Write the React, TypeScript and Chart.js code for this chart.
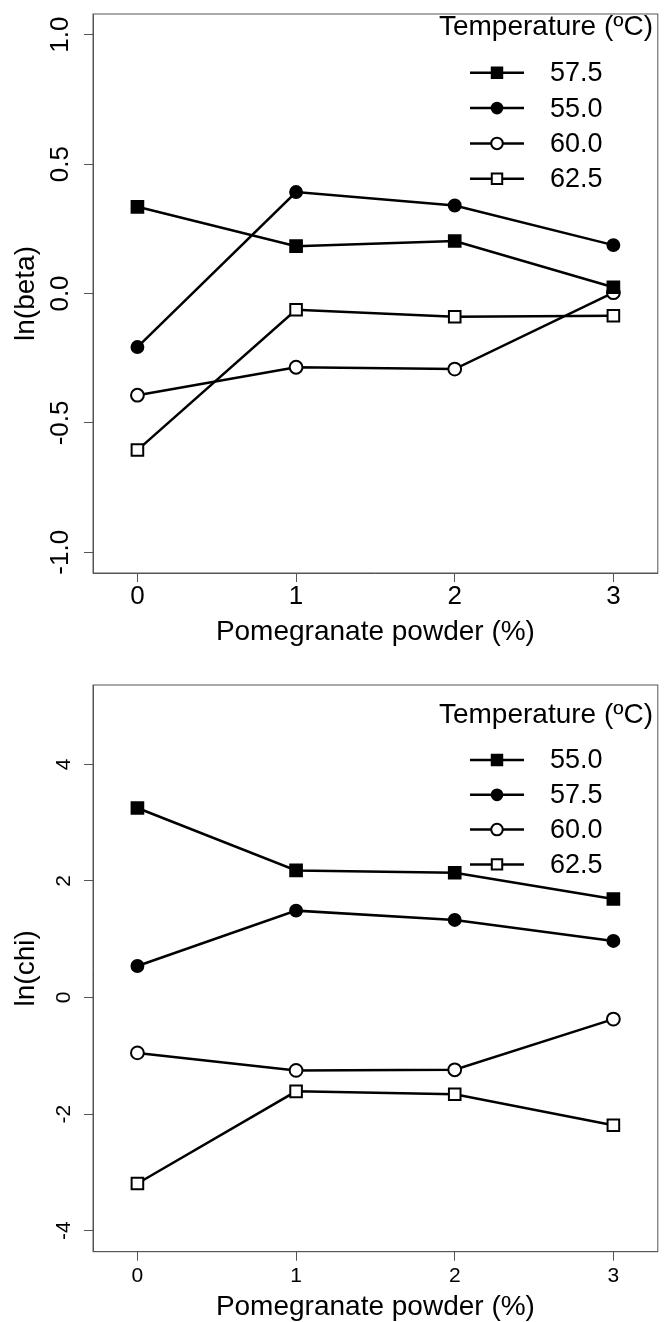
import React, { useEffect, useRef } from "react";
import { Chart, registerables } from "chart.js";
import { drawPoint } from "chart.js/helpers";

Chart.register(...registerables);

// ---------- data ----------
const xValues = [0, 1, 2, 3];
const xTickValues = [0, 1, 2, 3];
const xAxisTitle = "Pomegranate powder (%)";
const legendTitle = "Temperature (ºC)";

// top panel: ln(beta)
const betaYTitle = "ln(beta)";
const betaLabels = ["57.5", "55.0", "60.0", "62.5"];
const beta575 = [0.335, 0.183, 0.203, 0.024];
const beta550 = [-0.207, 0.392, 0.34, 0.187];
const beta600 = [-0.393, -0.285, -0.292, 0.003];
const beta625 = [-0.605, -0.063, -0.09, -0.086];
const betaYTicks = [-1, -0.5, 0, 0.5, 1];

// bottom panel: ln(chi)
const chiYTitle = "ln(chi)";
const chiLabels = ["55.0", "57.5", "60.0", "62.5"];
const chi550 = [3.25, 2.18, 2.14, 1.69];
const chi575 = [0.54, 1.49, 1.33, 0.97];
const chi600 = [-0.95, -1.25, -1.24, -0.37];
const chi625 = [-3.19, -1.61, -1.66, -2.19];
const chiYTicks = [-4, -2, 0, 2, 4];

// ---------- styles ----------
const FONT = "'Liberation Sans', Arial, Helvetica, sans-serif";
const BOX = "#555555";
const MARKERS = [
  { style: "rect", fill: "#000000", radius: 8.6, bw: 1.5 },
  { style: "circle", fill: "#000000", radius: 6.2, bw: 1.5 },
  { style: "circle", fill: "#ffffff", radius: 6.4, bw: 2 },
  { style: "rect", fill: "#ffffff", radius: 8.2, bw: 2 },
];

const rPlugin = {
  id: "rBox",
  afterDraw(chart: any, _args: any, opts: any) {
    const { ctx, chartArea: a } = chart;
    ctx.save();
    ctx.strokeStyle = BOX;
    ctx.lineWidth = 1;
    ctx.strokeRect(a.left, a.top, a.right - a.left, a.bottom - a.top);

    ctx.fillStyle = "#000";
    ctx.font = `28px ${FONT}`;
    ctx.textAlign = "right";
    ctx.textBaseline = "middle";
    ctx.fillText(opts.title, opts.titleX, opts.titleY);

    chart.data.datasets.forEach((ds: any, i: number) => {
      const y = opts.rowY0 + i * opts.rowStep;
      ctx.strokeStyle = "#000";
      ctx.lineWidth = 2.5;
      ctx.beginPath();
      ctx.moveTo(opts.lineX0, y);
      ctx.lineTo(opts.lineX1, y);
      ctx.stroke();
      const m = MARKERS[i];
      ctx.fillStyle = m.fill;
      ctx.strokeStyle = "#000";
      ctx.lineWidth = m.bw;
      drawPoint(ctx, { pointStyle: m.style, rotation: 0, radius: m.radius * 0.9, borderWidth: m.bw } as any, (opts.lineX0 + opts.lineX1) / 2, y);
      ctx.fillStyle = "#000";
      ctx.font = `27px ${FONT}`;
      ctx.textAlign = "left";
      ctx.textBaseline = "middle";
      ctx.fillText(ds.label, opts.textX, y + 1);
    });
    ctx.restore();
  },
};

function buildConfig(p: any) {
  const datasets = p.series.map((vals: number[], i: number) => {
    const m = MARKERS[i];
    return {
      label: p.labels[i],
      data: xValues.map((x, j) => ({ x, y: vals[j] })),
      borderColor: "#000000",
      borderWidth: 2.5,
      pointStyle: m.style,
      pointRadius: m.radius,
      pointBorderWidth: m.bw,
      pointBackgroundColor: m.fill,
      pointBorderColor: "#000000",
      tension: 0,
      fill: false,
    };
  });
  return {
    type: "line",
    data: { datasets },
    plugins: [rPlugin],
    options: {
      animation: false,
      responsive: false,
      devicePixelRatio: 1,
      layout: { padding: { top: p.padTop, right: 9, left: 0, bottom: 0 } },
      plugins: {
        legend: { display: false },
        tooltip: { enabled: false },
        rBox: p.legend,
      },
      scales: {
        x: {
          type: "linear",
          min: -0.28,
          max: 3.28,
          afterBuildTicks: (s: any) => {
            s.ticks = xTickValues.map((v) => ({ value: v }));
          },
          afterFit: (s: any) => {
            s.height = p.xAxisHeight;
          },
          ticks: {
            autoSkip: false,
            maxRotation: 0,
            minRotation: 0,
            padding: p.xTickPad,
            color: "#000",
            font: { family: FONT, size: p.xTickSize, lineHeight: 1 },
            callback: (v: any) => String(v),
          },
          grid: { display: true, drawOnChartArea: false, drawTicks: true, tickLength: 9, color: BOX, lineWidth: 1 },
          border: { display: true, color: BOX, width: 1 },
          title: {
            display: true,
            text: xAxisTitle,
            color: "#000",
            font: { family: FONT, size: 28, lineHeight: 1 },
            padding: { top: 0, bottom: p.xTitlePad },
          },
        },
        y: {
          type: "linear",
          min: p.yMin,
          max: p.yMax,
          afterBuildTicks: (s: any) => {
            s.ticks = p.yTicks.map((v: number) => ({ value: v }));
          },
          afterFit: (s: any) => {
            s.width = 93;
          },
          ticks: {
            autoSkip: false,
            minRotation: 90,
            maxRotation: 90,
            crossAlign: "center",
            padding: p.yTickPad,
            color: "#000",
            font: { family: FONT, size: p.yTickSize, lineHeight: 1 },
            callback: (v: any) => p.yFmt(v),
          },
          grid: { display: true, drawOnChartArea: false, drawTicks: true, tickLength: 9, color: BOX, lineWidth: 1 },
          border: { display: true, color: BOX, width: 1 },
          title: {
            display: true,
            text: p.yTitle,
            color: "#000",
            font: { family: FONT, size: 28, lineHeight: 1 },
            padding: { top: 12.3, bottom: 0 },
          },
        },
      },
    },
  };
}

const topParams = {
  series: [beta575, beta550, beta600, beta625],
  labels: betaLabels,
  yMin: -1.08,
  yMax: 1.08,
  yTicks: betaYTicks,
  yFmt: (v: number) => v.toFixed(1),
  yTitle: betaYTitle,
  padTop: 7,
  xAxisHeight: 87,
  xTickPad: 1.7,
  xTickSize: 26,
  xTitlePad: 14,
  yTickPad: 1,
  yTickSize: 26,
  legend: { title: legendTitle, titleX: 653, titleY: 27, rowY0: 72.8, rowStep: 35.3, lineX0: 470, lineX1: 524, textX: 550 },
};

const bottomParams = {
  series: [chi550, chi575, chi600, chi625],
  labels: chiLabels,
  yMin: -4.36,
  yMax: 5.36,
  yTicks: chiYTicks,
  yFmt: (v: number) => String(v),
  yTitle: chiYTitle,
  padTop: 25,
  xAxisHeight: 70.3,
  xTickPad: 4.8,
  xTickSize: 21,
  xTitlePad: 1,
  yTickPad: 10,
  yTickSize: 21,
  legend: { title: legendTitle, titleX: 653, titleY: 55.3, rowY0: 100, rowStep: 34.8, lineX0: 470, lineX1: 524, textX: 550 },
};

function Panel({ params, top, height }: { params: any; top: number; height: number }) {
  const ref = useRef<HTMLCanvasElement | null>(null);
  useEffect(() => {
    if (!ref.current) return;
    const chart = new Chart(ref.current, buildConfig(params) as any);
    return () => chart.destroy();
  }, [params]);
  return (
    <canvas
      ref={ref}
      width={668}
      height={height}
      style={{ position: "absolute", left: 0, top, width: 668, height, display: "block" }}
    />
  );
}

export default function App() {
  return (
    <div style={{ position: "absolute", left: 0, top: 0, width: 668, height: 1322, background: "#fff", overflow: "hidden" }}>
      <Panel params={topParams} top={0} height={660} />
      <Panel params={bottomParams} top={660} height={662} />
    </div>
  );
}
